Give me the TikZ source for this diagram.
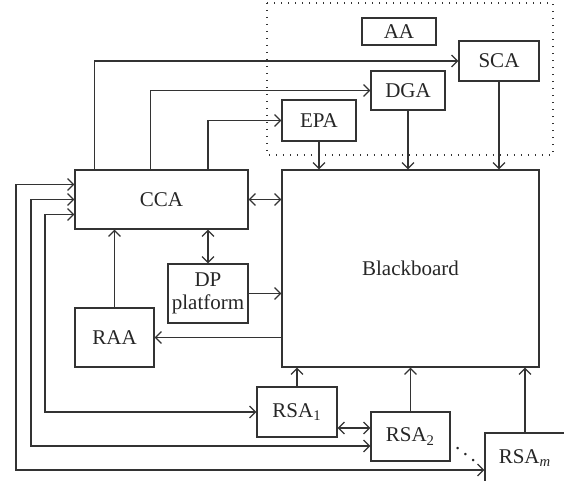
\documentclass[tikz,border=0pt]{standalone}
\usepackage{fontspec}
\setmainfont{Liberation Serif}
\usetikzlibrary{positioning, arrows.meta, calc}

\begin{document}
\begin{tikzpicture}[x=0.5pt, y=-0.5pt, font=\fontsize{10.5}{11.5}\selectfont,
    every node/.style={text=black!85},
    box/.style={draw=black!80, semithick, inner sep=1pt, align=center},
    arr/.style={draw=black!80, semithick, -{Straight Barb[length=3pt,width=6pt]}},
    darr/.style={draw=black!80, semithick, {Straight Barb[length=3pt,width=6pt]}-{Straight Barb[length=3pt,width=6pt]}}]
    \useasboundingbox (0,0) rectangle (564,481);
    \clip (0,0) rectangle (564,481);

    % agent group (dotted frame)
    \draw[black!80, line width=0.6pt, dash pattern=on 0.6pt off 2.9pt] (267,3) rectangle (553,155);
    \node[box, minimum width=37pt, minimum height=13.5pt] (AA) at (399,31.5) {AA};
    \node[box, minimum width=40pt, minimum height=20pt] (SCA) at (499,61) {SCA};
    \node[box, minimum width=37pt, minimum height=19.5pt] (DGA) at (408,90.5) {DGA};
    \node[box, minimum width=37pt, minimum height=20.5pt] (EPA) at (319,120.5) {EPA};

    % main boxes
    \node[box, minimum width=128.5pt, minimum height=98.5pt] (BB) at (410.5,268.5) {Blackboard};
    \node[box, minimum width=86.5pt, minimum height=29.5pt] (CCA) at (161.5,199.5) {CCA};
    \node[box, minimum width=40pt, minimum height=29.5pt] (DP) at (208,293.5) {DP\\platform};
    \node[box, minimum width=39.5pt, minimum height=29.5pt] (RAA) at (114.5,337.5) {RAA};

    % search agents
    \node[box, minimum width=40pt, minimum height=25pt] (RSA1) at (297,412) {RSA\textsubscript{1}};
    \node[box, minimum width=39.5pt, minimum height=24.5pt] (RSA2) at (410.5,436.5) {RSA\textsubscript{2}};
    \node[box, minimum width=40pt, minimum height=25pt] (RSAm) at (525,458) {RSA\textsubscript{\textit{m}}};
    \node (dots) at (465.5,448) {$\ddots$};

    % CCA to the agent group
    \draw[arr] ([xshift=10pt]CCA.north west) |- (SCA.west);
    \draw[arr] ([xshift=38pt]CCA.north west) |- (DGA.west);
    \draw[arr] (DP.north |- CCA.north) |- (EPA.west);
    \draw[arr] (EPA.south) -- (EPA.south |- BB.north);
    \draw[arr] (DGA.south) -- (DGA.south |- BB.north);
    \draw[arr] (SCA.south) -- (SCA.south |- BB.north);

    % around the blackboard
    \draw[darr] (CCA.east) -- (BB.west |- CCA.east);
    \draw[darr] (DP.north |- CCA.south) -- (DP.north);
    \draw[arr] (DP.east) -- (BB.west |- DP.east);
    \draw[arr] (BB.west |- RAA.east) -- (RAA.east);
    \draw[arr] (RAA.north) -- (RAA.north |- CCA.south);
    \draw[arr] (RSA1.north) -- (RSA1.north |- BB.south);
    \draw[arr] (RSA2.north) -- (RSA2.north |- BB.south);
    \draw[arr] (RSAm.north) -- (RSAm.north |- BB.south);
    \draw[darr] (RSA1.east |- 0,428) -- (RSA2.west |- 0,428);

    % feedback lines to CCA
    \coordinate (f1) at (45,0);
    \coordinate (f2) at (31,0);
    \coordinate (f3) at (16,0);
    \draw[darr] ([yshift=-7.5pt]CCA.west) -| (f1 |- RSA1.west) -- (RSA1.west);
    \draw[darr] (CCA.west) -| (f2 |- 0,446) -- (RSA2.west |- 0,446);
    \draw[darr] ([yshift=7.5pt]CCA.west) -| (f3 |- 0,470) -- (RSAm.west |- 0,470);
\end{tikzpicture}
\end{document}
